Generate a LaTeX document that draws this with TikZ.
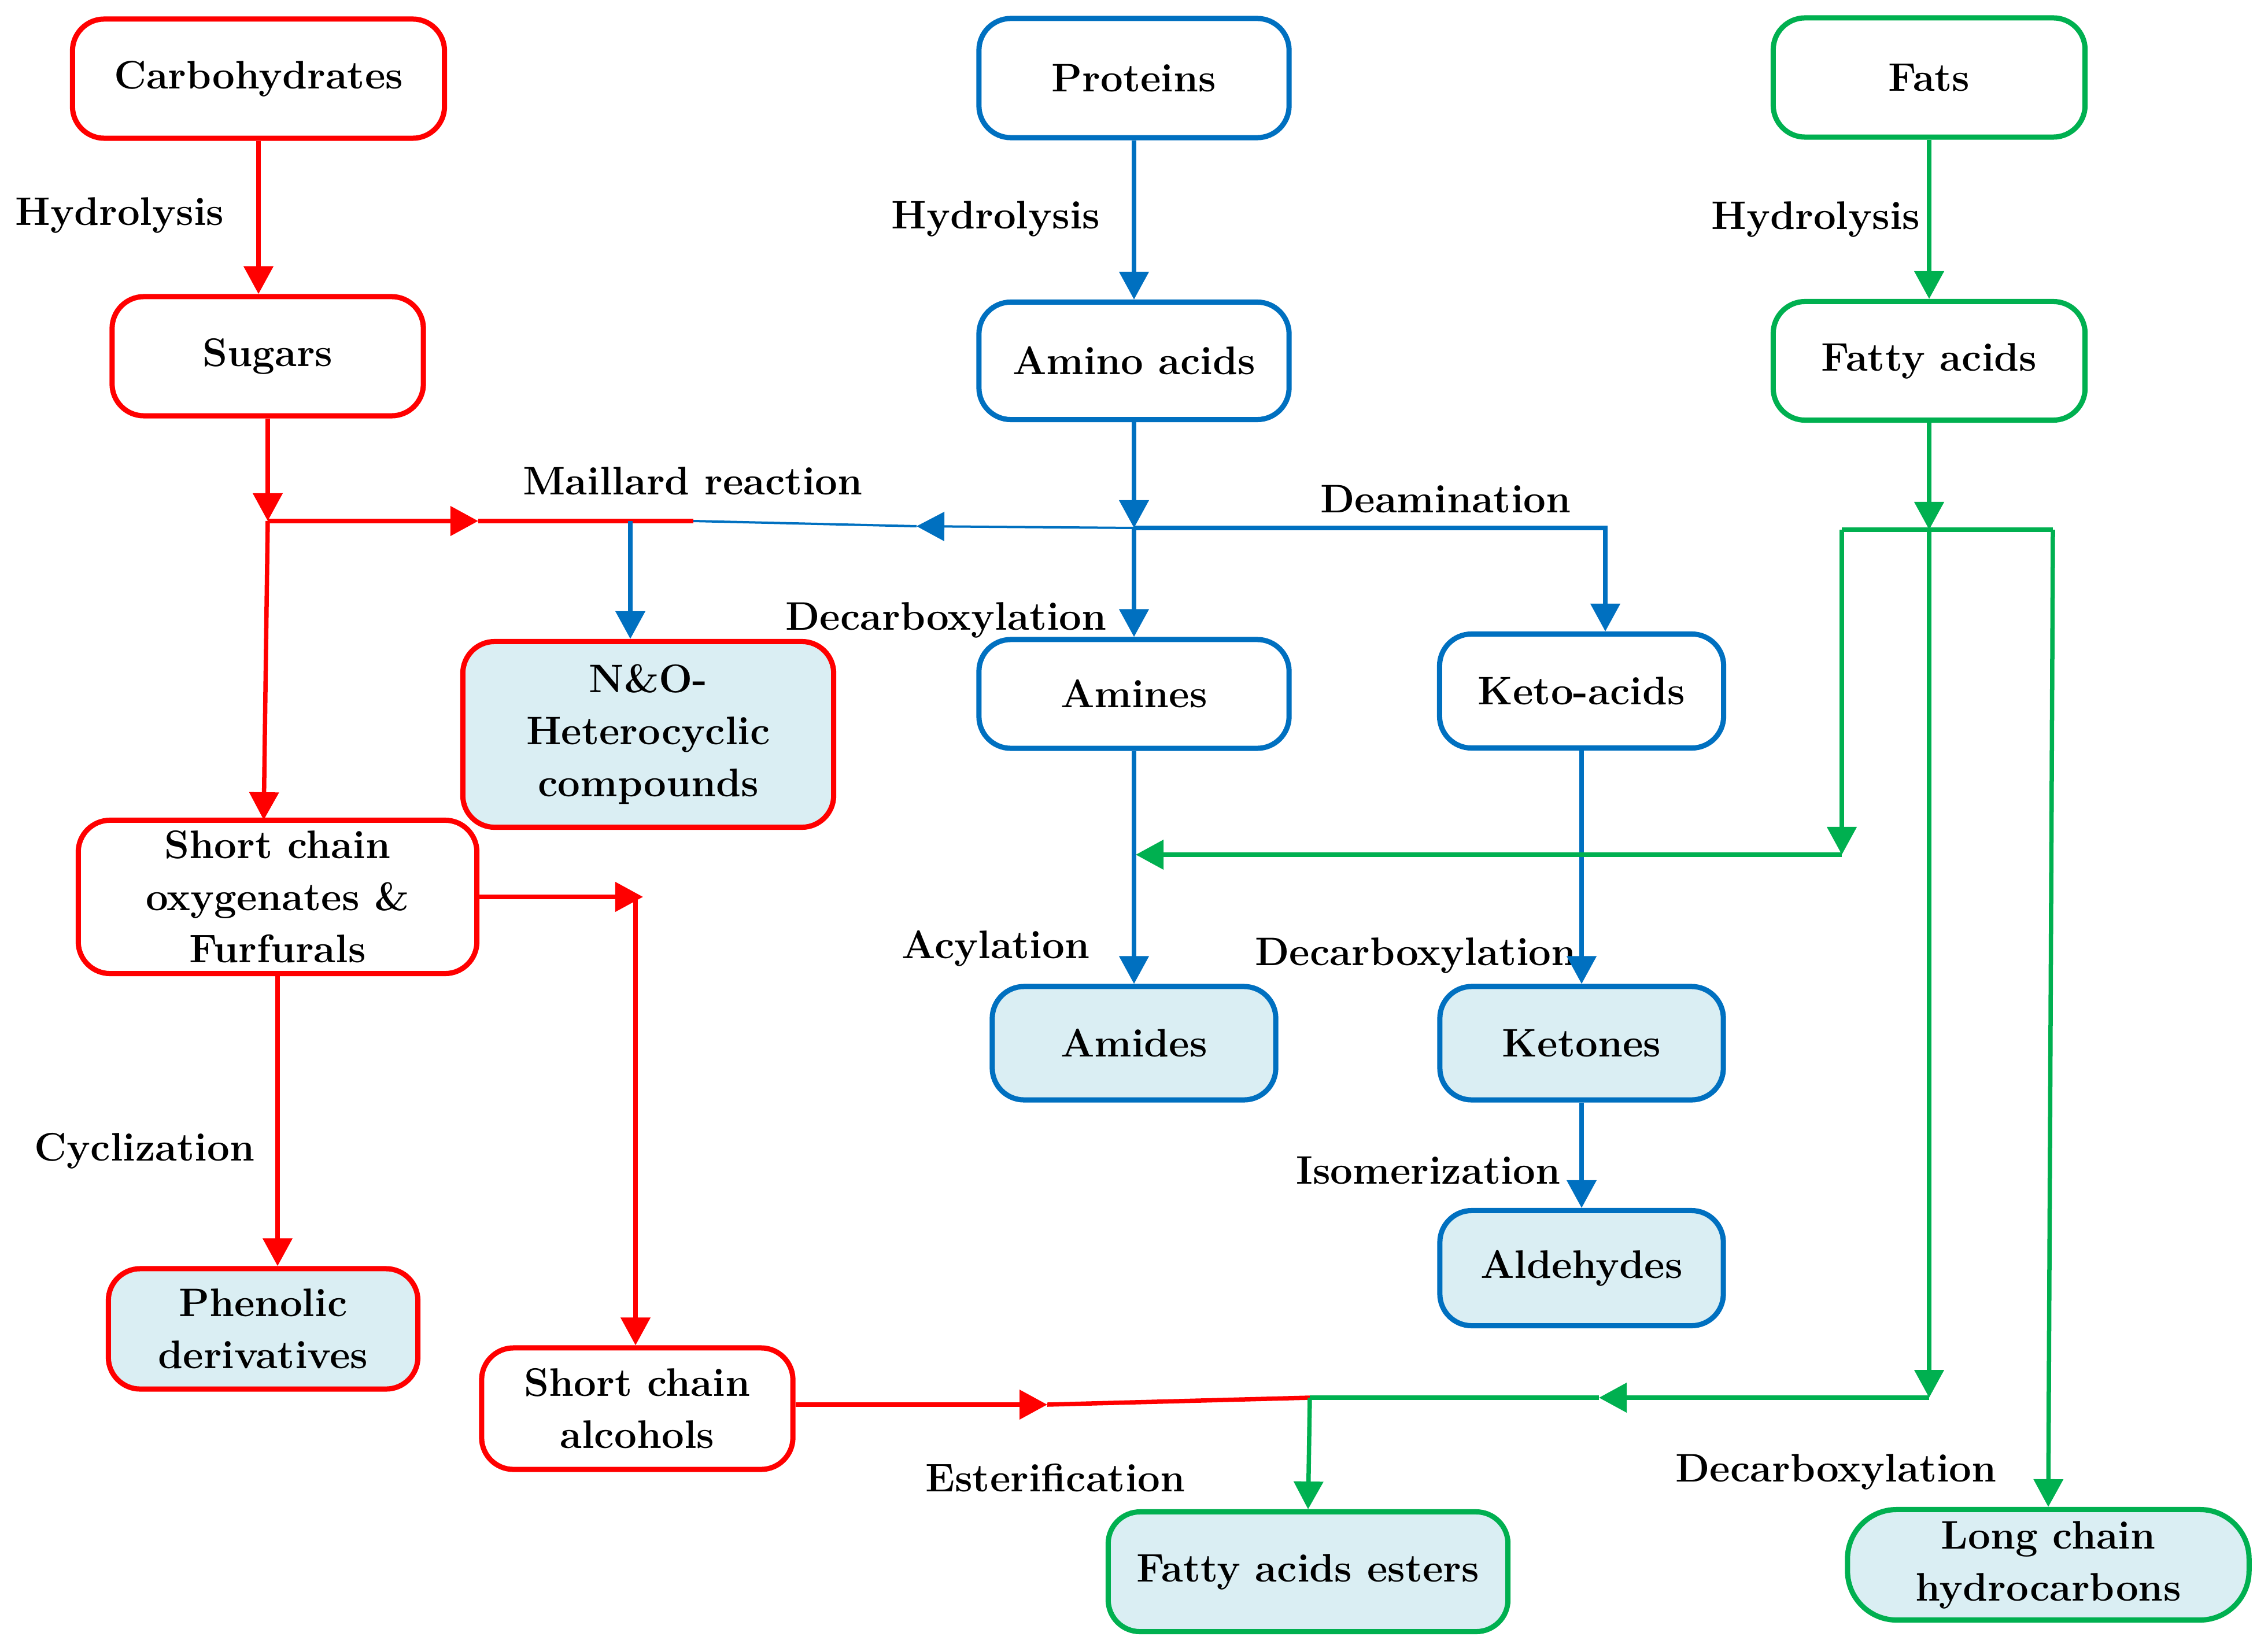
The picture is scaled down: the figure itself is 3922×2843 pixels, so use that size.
\documentclass[tikz,border=0pt]{standalone}
\usepackage{fontspec}
\usetikzlibrary{arrows.meta}
\definecolor{cred}{RGB}{255,0,0}
\definecolor{cblue}{RGB}{0,112,192}
\definecolor{cgreen}{RGB}{0,176,80}
\definecolor{cfill}{RGB}{218,238,243}
\begin{document}
\begin{tikzpicture}[x=0.01cm,y=-0.01cm,
  every node/.style={font=\fontsize{19.6}{25.6}\selectfont\bfseries},
  box/.style={draw, rounded corners=0.55cm, line width=0.09cm, align=center, inner sep=0pt},
  rbox/.style={box, draw=cred},
  bbox/.style={box, draw=cblue},
  gbox/.style={box, draw=cgreen},
  res/.style={fill=cfill},
  ln/.style={line width=0.075cm},
  thinln/.style={line width=0.04cm},
  tip/.style={-{Triangle[length=0.48cm,width=0.5cm]}},
  arr/.style={ln, tip},
  lbl/.style={inner sep=0pt}
]
\fill[white] (0,0) rectangle (3922,2843);
\useasboundingbox (0,0) rectangle (3922,2843);

% ---- nodes ----
\node[rbox, minimum width=6.43cm, minimum height=2.06cm] (carb) at (447,136) {Carbohydrates};
\node[rbox, minimum width=5.38cm, minimum height=2.06cm] (sugars) at (463,616) {Sugars};
\node[bbox, minimum width=5.36cm, minimum height=2.06cm] (prot) at (1961,135) {Proteins};
\node[bbox, minimum width=5.36cm, minimum height=2.03cm] (amino) at (1961,624) {Amino acids};
\node[bbox, minimum width=5.36cm, minimum height=1.88cm] (amines) at (1961,1200) {Amines};
\node[bbox, minimum width=4.91cm, minimum height=1.97cm] (keto) at (2735,1195) {Keto-acids};
\node[gbox, minimum width=5.39cm, minimum height=2.06cm] (fats) at (3336,134) {Fats};
\node[gbox, minimum width=5.39cm, minimum height=2.05cm] (fattyacids) at (3336,624) {Fatty acids};
\node[rbox, res, minimum width=6.41cm, minimum height=3.21cm] (NO) at (1121,1270) {N\&O-\\Heterocyclic\\compounds};
\node[rbox, minimum width=6.89cm, minimum height=2.65cm] (shortox) at (480,1551) {Short chain\\oxygenates \&\\Furfurals};
\node[bbox, res, minimum width=4.90cm, minimum height=1.96cm] (amides) at (1961,1804) {Amides};
\node[bbox, res, minimum width=4.90cm, minimum height=1.96cm] (ketones) at (2735,1804) {Ketones};
\node[bbox, res, minimum width=4.90cm, minimum height=1.99cm] (aldehydes) at (2735,2193) {Aldehydes};
\node[rbox, res, minimum width=5.35cm, minimum height=2.08cm] (phenolic) at (455,2298) {Phenolic\\derivatives};
\node[rbox, minimum width=5.38cm, minimum height=2.10cm] (alcohols) at (1102,2436) {Short chain\\alcohols};
\node[gbox, res, minimum width=6.91cm, minimum height=2.07cm] (esters) at (2262,2718) {Fatty acids esters};
\node[gbox, res, minimum width=6.94cm, minimum height=1.91cm, rounded corners=0.85cm] (longchain) at (3542,2706) {Long chain\\hydrocarbons};

% ---- labels ----
\node[lbl] (l1) at (207,372) {Hydrolysis};
\node[lbl] (l2) at (1722,378) {Hydrolysis};
\node[lbl] (l3) at (3140,379) {Hydrolysis};
\node[lbl] (l4) at (1198,832) {Maillard reaction};
\node[lbl] (l5) at (2500,863) {Deamination};
\node[lbl] (l6) at (1636,1072) {Decarboxylation};
\node[lbl] (l7) at (1722,1640) {Acylation};
\node[lbl] (l8) at (2448,1652) {Decarboxylation};
\node[lbl] (l9) at (250,1990) {Cyclization};
\node[lbl] (l10) at (2470,2024) {Isomerization};
\node[lbl] (l11) at (1825,2556) {Esterification};
\node[lbl] (l12) at (3175,2545) {Decarboxylation};

% ---- coordinates ----
\coordinate (J1) at (463,901);
\coordinate (M1) at (827,901);
\coordinate (M2) at (1199,901);
\coordinate (S1) at (456,1418);
\coordinate (B1) at (1585,910);
\coordinate (B2) at (1090,901);
\coordinate (J2) at (1961,913);
\coordinate (K1) at (2776,913);
\coordinate (R1) at (1112,1551);
\coordinate (R2) at (1099,1551);
\coordinate (R3) at (1811,2429);
\coordinate (E1) at (2265,2417);
\coordinate (J3) at (3336,916);
\coordinate (G1) at (3185,916);
\coordinate (G2) at (3550,916);
\coordinate (G3) at (3185,1478);
\coordinate (G4) at (1964,1478);
\coordinate (G5) at (3336,2417);
\coordinate (G6) at (2765,2417);

% ---- red connectors ----
\draw[arr, cred] (carb.south) -- (carb.south |- sugars.north);
\draw[arr, cred] (sugars.south) -- (J1);
\draw[arr, cred] (J1) -- (M1);
\draw[ln, cred] (M1) -- (M2);
\draw[arr, cred] (J1) -- (S1);
\draw[arr, cred] (shortox.east) -- (R1);
\draw[arr, cred] (R2) -- (R2 |- alcohols.north);
\draw[arr, cred] (shortox.south) -- (shortox.south |- phenolic.north);
\draw[arr, cred] (alcohols.east |- R3) -- (R3);
\draw[ln, cred] (R3) -- (E1);

% ---- blue connectors ----
\draw[thinln, tip, cblue] (J2) -- (B1);
\draw[thinln, cblue] (B1) -- (M2);
\draw[arr, cblue] (B2) -- (B2 |- NO.north);
\draw[arr, cblue] (prot.south) -- (amino.north);
\draw[arr, cblue] (amino.south) -- (J2);
\draw[arr, cblue] (J2) -- (amines.north);
\draw[arr, cblue] (J2) -- (K1) -- (K1 |- keto.north);
\draw[arr, cblue] (amines.south) -- (amides.north);
\draw[arr, cblue] (keto.south) -- (ketones.north);
\draw[arr, cblue] (ketones.south) -- (aldehydes.north);

% ---- green connectors ----
\draw[arr, cgreen] (fats.south) -- (fattyacids.north);
\draw[arr, cgreen] (fattyacids.south) -- (J3);
\draw[ln, cgreen] (G1) -- (G2);
\draw[arr, cgreen] (G1) -- (G3);
\draw[arr, cgreen] (G3) -- (G4);
\draw[arr, cgreen] (J3) -- (G5);
\draw[arr, cgreen] (G5) -- (G6);
\draw[ln, cgreen] (G6) -- (E1);
\draw[arr, cgreen] (E1) -- (esters.north);
\draw[arr, cgreen] (G2) -- (longchain.north);
\end{tikzpicture}
\end{document}
